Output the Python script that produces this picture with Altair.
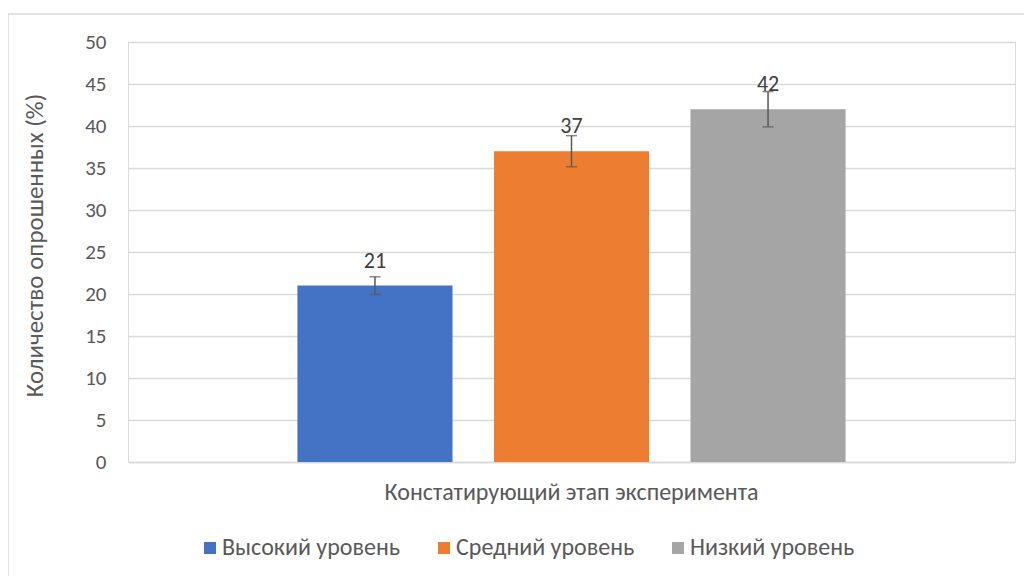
import altair as alt
import pandas as pd

category = "Констатирующий этап эксперимента"
series = ["Высокий уровень", "Средний уровень", "Низкий уровень"]
values = [21, 37, 42]
errors = [1.05, 1.85, 2.1]
colors = ["#4472C4", "#ED7D31", "#A5A5A5"]
y_ticks = [0, 5, 10, 15, 20, 25, 30, 35, 40, 45, 50]

df = pd.DataFrame({
    "cat": [category] * 3,
    "series": series,
    "value": values,
    "lo": [v - e for v, e in zip(values, errors)],
    "hi": [v + e for v, e in zip(values, errors)],
})

FONT = "Carlito, Calibri, Lato, 'Open Sans', sans-serif"
TXT = "#595959"

x_enc = alt.X("cat:N", scale=alt.Scale(paddingInner=0, paddingOuter=0),
              axis=alt.Axis(title=None, labelAngle=0, ticks=False, domain=True,
                            domainColor="#d9d9d9", domainWidth=1.5,
                            labelFontSize=24, labelColor=TXT, labelFont=FONT,
                            labelPadding=18, labelLimit=0))
xo_enc = alt.XOffset("series:N", sort=series,
                     scale=alt.Scale(domain=series, paddingInner=0.211, paddingOuter=0.862))

base = alt.Chart(df)

bars = base.mark_bar().encode(
    x=x_enc,
    xOffset=xo_enc,
    y=alt.Y("value:Q", scale=alt.Scale(domain=[0, 50], nice=False),
            axis=alt.Axis(values=y_ticks, title="Количество опрошенных (%)",
                          domain=False, ticks=False, grid=True,
                          gridColor="#d9d9d9", gridWidth=1.5,
                          labelFontSize=21, labelColor=TXT, labelFont=FONT,
                          labelPadding=22,
                          titleFontSize=25, titleColor=TXT, titleFont=FONT,
                          titleFontWeight="normal",
                          titleX=-94, titleY=203, titleAlign="center",
                          titleBaseline="middle", titleAngle=270)),
    color=alt.Color("series:N", sort=series,
                    scale=alt.Scale(domain=series, range=colors),
                    legend=alt.Legend(title=None, orient="none", direction="horizontal",
                                      legendX=70, legendY=494,
                                      symbolType="square", symbolSize=144,
                                      symbolStrokeWidth=0, symbolOpacity=1,
                                      labelFontSize=24, labelColor=TXT, labelFont=FONT,
                                      labelOffset=0, columnPadding=31, padding=0,
                                      labelLimit=0)),
)

rules = base.mark_rule(color="#595959", strokeWidth=1.5).encode(
    x=alt.X("cat:N"), xOffset=alt.XOffset("series:N", sort=series),
    y="lo:Q", y2="hi:Q",
)
caps_lo = base.mark_tick(color="#595959", orient="horizontal", size=11, thickness=1.5).encode(
    x=alt.X("cat:N"), xOffset=alt.XOffset("series:N", sort=series), y="lo:Q",
)
caps_hi = base.mark_tick(color="#595959", orient="horizontal", size=11, thickness=1.5).encode(
    x=alt.X("cat:N"), xOffset=alt.XOffset("series:N", sort=series), y="hi:Q",
)
labels = base.mark_text(baseline="alphabetic", dy=-18, fontSize=22, color="#404040",
                        font=FONT).encode(
    x=alt.X("cat:N"), xOffset=alt.XOffset("series:N", sort=series),
    y="value:Q", text="value:Q",
)

frame = alt.Chart(pd.DataFrame({"a": [0]})).mark_rect(
    fillOpacity=0, stroke="#d9d9d9", strokeWidth=1.5
).encode(
    x=alt.value(-120), x2=alt.value(903), y=alt.value(-28), y2=alt.value(560)
)

chart = alt.layer(frame, bars, rules, caps_lo, caps_hi, labels).properties(
    width=887, height=420,
    padding={"left": 120, "top": 34, "right": 9, "bottom": 130},
    autosize=alt.AutoSizeParams(type="none"),
).configure_view(stroke=None).configure(background="white")

chart.save("out.html", embed_options={"renderer": "svg", "actions": False})
